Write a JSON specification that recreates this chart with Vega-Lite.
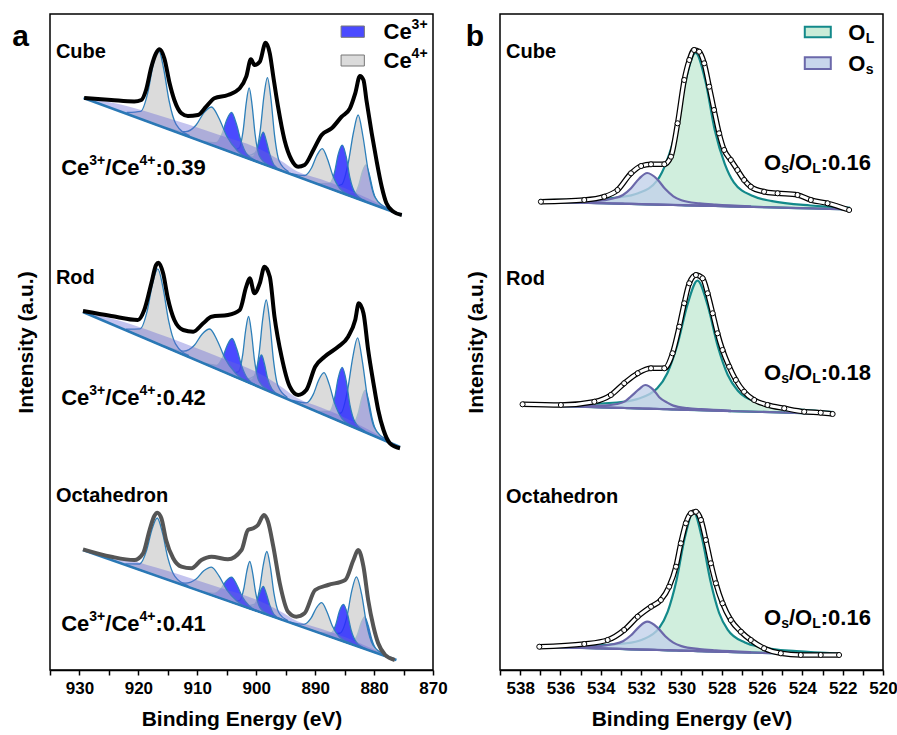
{
"$schema":"https://vega.github.io/schema/vega-lite/v6.json",
"background":"white",
"padding":{"left":11,"top":13,"right":5,"bottom":5},
"spacing":67,
"bounds":"flush",
"config":{"font":"Liberation Sans","view":{"stroke":"black","strokeWidth":1.5},
"axis":{"labelFont":"Liberation Sans","labelFontSize":17,"labelFontWeight":"bold","labelColor":"black","titleFont":"Liberation Sans","titleFontSize":21,"titleFontWeight":"bold","titleColor":"black","domainColor":"black","domainWidth":1.5,"tickColor":"black","tickWidth":1.5,"tickSize":5,"grid":false},
"text":{"font":"Liberation Sans","fontWeight":"bold","color":"black"}},
"resolve":{"scale":{"x":"independent","y":"independent","fill":"independent","stroke":"independent","fillOpacity":"independent"}},
"datasets":{
"aData":[
{"s":"Cube","x":929.2,"y":572},{"s":"Cube","x":924.6,"y":570},{"s":"Cube","x":920.7,"y":568.5},{"s":"Cube","x":919.5,"y":570},{"s":"Cube","x":918.7,"y":580},{"s":"Cube","x":917.8,"y":603},{"s":"Cube","x":917.0,"y":616.7},{"s":"Cube","x":916.4,"y":620.7},{"s":"Cube","x":915.6,"y":611.7},{"s":"Cube","x":914.7,"y":586.7},{"s":"Cube","x":913.9,"y":570},{"s":"Cube","x":912.7,"y":556.7},{"s":"Cube","x":911.6,"y":554},{"s":"Cube","x":909.9,"y":555},{"s":"Cube","x":908.5,"y":563.3},{"s":"Cube","x":907.1,"y":571.7},{"s":"Cube","x":904.8,"y":575},{"s":"Cube","x":902.8,"y":581.7},{"s":"Cube","x":901.7,"y":593.3},{"s":"Cube","x":900.9,"y":610.7},{"s":"Cube","x":900.3,"y":605},{"s":"Cube","x":899.4,"y":608.3},{"s":"Cube","x":898.4,"y":627.3},{"s":"Cube","x":897.7,"y":616.7},{"s":"Cube","x":897.1,"y":593.3},{"s":"Cube","x":896.3,"y":563.3},{"s":"Cube","x":895.2,"y":530},{"s":"Cube","x":894.0,"y":510},{"s":"Cube","x":892.9,"y":503.3},{"s":"Cube","x":891.8,"y":505},{"s":"Cube","x":890.3,"y":520},{"s":"Cube","x":888.9,"y":535},{"s":"Cube","x":887.2,"y":541.7},{"s":"Cube","x":885.5,"y":553.3},{"s":"Cube","x":884.1,"y":561.7},{"s":"Cube","x":883.2,"y":576.7},{"s":"Cube","x":882.4,"y":594},{"s":"Cube","x":881.8,"y":590},{"s":"Cube","x":881.3,"y":570},{"s":"Cube","x":880.4,"y":536.7},{"s":"Cube","x":879.6,"y":510},{"s":"Cube","x":878.7,"y":483.3},{"s":"Cube","x":877.9,"y":466.7},{"s":"Cube","x":876.7,"y":458.3},{"s":"Cube","x":875.3,"y":455},
{"s":"Rod","x":929.4,"y":359},{"s":"Rod","x":924.6,"y":354},{"s":"Rod","x":920.1,"y":350},{"s":"Rod","x":919.0,"y":360},{"s":"Rod","x":917.8,"y":386.7},{"s":"Rod","x":917.0,"y":405},{"s":"Rod","x":916.6,"y":407.3},{"s":"Rod","x":915.8,"y":396.7},{"s":"Rod","x":915.0,"y":371.7},{"s":"Rod","x":913.9,"y":350},{"s":"Rod","x":912.4,"y":340},{"s":"Rod","x":910.7,"y":338.3},{"s":"Rod","x":909.0,"y":346.7},{"s":"Rod","x":907.6,"y":353.3},{"s":"Rod","x":904.8,"y":355},{"s":"Rod","x":902.8,"y":360},{"s":"Rod","x":901.7,"y":383.3},{"s":"Rod","x":901.1,"y":391.7},{"s":"Rod","x":900.3,"y":376.7},{"s":"Rod","x":899.4,"y":386.7},{"s":"Rod","x":898.6,"y":403.3},{"s":"Rod","x":897.7,"y":393.3},{"s":"Rod","x":896.9,"y":353.3},{"s":"Rod","x":895.7,"y":313.3},{"s":"Rod","x":894.3,"y":283.3},{"s":"Rod","x":892.9,"y":275},{"s":"Rod","x":891.5,"y":280},{"s":"Rod","x":890.0,"y":303.3},{"s":"Rod","x":888.4,"y":313.3},{"s":"Rod","x":886.1,"y":323.3},{"s":"Rod","x":884.4,"y":333.3},{"s":"Rod","x":883.2,"y":350},{"s":"Rod","x":882.6,"y":366.7},{"s":"Rod","x":881.8,"y":356.7},{"s":"Rod","x":881.0,"y":320},{"s":"Rod","x":880.1,"y":286.7},{"s":"Rod","x":879.3,"y":260},{"s":"Rod","x":878.4,"y":240},{"s":"Rod","x":877.3,"y":226.7},{"s":"Rod","x":875.6,"y":221.7},
{"s":"Octahedron","x":929.4,"y":120.7},{"s":"Octahedron","x":924.6,"y":113.3},{"s":"Octahedron","x":920.7,"y":110},{"s":"Octahedron","x":919.2,"y":116.7},{"s":"Octahedron","x":918.1,"y":140},{"s":"Octahedron","x":917.3,"y":154},{"s":"Octahedron","x":916.8,"y":157.3},{"s":"Octahedron","x":916.1,"y":151.7},{"s":"Octahedron","x":915.3,"y":130},{"s":"Octahedron","x":914.1,"y":111.7},{"s":"Octahedron","x":912.7,"y":103.3},{"s":"Octahedron","x":911.0,"y":101.7},{"s":"Octahedron","x":909.3,"y":110},{"s":"Octahedron","x":907.6,"y":113.3},{"s":"Octahedron","x":904.8,"y":110.7},{"s":"Octahedron","x":902.5,"y":120},{"s":"Octahedron","x":901.4,"y":140},{"s":"Octahedron","x":900.5,"y":141.7},{"s":"Octahedron","x":899.7,"y":145},{"s":"Octahedron","x":898.7,"y":155},{"s":"Octahedron","x":898.0,"y":148.3},{"s":"Octahedron","x":897.1,"y":123.3},{"s":"Octahedron","x":896.0,"y":86.7},{"s":"Octahedron","x":894.6,"y":58.3},{"s":"Octahedron","x":893.2,"y":53.3},{"s":"Octahedron","x":891.8,"y":56.7},{"s":"Octahedron","x":890.0,"y":80},{"s":"Octahedron","x":887.8,"y":85},{"s":"Octahedron","x":884.9,"y":90},{"s":"Octahedron","x":883.5,"y":110},{"s":"Octahedron","x":882.7,"y":120},{"s":"Octahedron","x":881.8,"y":103.3},{"s":"Octahedron","x":881.0,"y":70},{"s":"Octahedron","x":880.1,"y":43.3},{"s":"Octahedron","x":879.3,"y":26.7},{"s":"Octahedron","x":878.1,"y":15},{"s":"Octahedron","x":876.5,"y":10}
],
"aBase":[{"s":"Cube","x":929.3,"y":572},{"s":"Cube","x":875.3,"y":455},{"s":"Rod","x":929.4,"y":358},{"s":"Rod","x":875.6,"y":223},{"s":"Octahedron","x":929.4,"y":120},{"s":"Octahedron","x":876.2,"y":10}],
"aWedge":[
{"k":"WC","x":929.3,"lo":572,"y":572},{"k":"WC","x":923,"lo":558.4,"y":565.4},{"k":"WC","x":917,"lo":545.4,"y":555.4},{"k":"WC","x":911.5,"lo":533.4,"y":545.4},{"k":"WC","x":906,"lo":521.5,"y":534.5},{"k":"WC","x":900,"lo":508.5,"y":522.5},{"k":"WC","x":896,"lo":499.9,"y":509.9},{"k":"WC","x":893,"lo":493.4,"y":498.4},{"k":"WC","x":889,"lo":484.7,"y":490.7},{"k":"WC","x":885,"lo":476.0,"y":482.0},{"k":"WC","x":881,"lo":467.4,"y":471.4},{"k":"WC","x":878,"lo":460.9,"y":462.9},{"k":"WC","x":875.3,"lo":455,"y":455},
{"k":"WR","x":929.4,"lo":358,"y":358},{"k":"WR","x":923,"lo":341.9,"y":348.9},{"k":"WR","x":917,"lo":326.9,"y":336.9},{"k":"WR","x":911.5,"lo":313.1,"y":325.1},{"k":"WR","x":906,"lo":299.3,"y":312.3},{"k":"WR","x":900,"lo":284.2,"y":298.2},{"k":"WR","x":896,"lo":274.2,"y":284.2},{"k":"WR","x":893,"lo":266.7,"y":271.7},{"k":"WR","x":889,"lo":256.6,"y":262.6},{"k":"WR","x":885,"lo":246.6,"y":252.6},{"k":"WR","x":881,"lo":236.5,"y":240.5},{"k":"WR","x":878,"lo":229.0,"y":231.0},{"k":"WR","x":875.6,"lo":223,"y":223},
{"k":"WO","x":929.4,"lo":120,"y":120},{"k":"WO","x":923,"lo":106.8,"y":112.4},{"k":"WO","x":917,"lo":94.4,"y":102.4},{"k":"WO","x":911.5,"lo":83.0,"y":92.6},{"k":"WO","x":906,"lo":71.6,"y":82.0},{"k":"WO","x":900,"lo":59.2,"y":70.4},{"k":"WO","x":896,"lo":51.0,"y":59.0},{"k":"WO","x":893,"lo":44.7,"y":48.7},{"k":"WO","x":889,"lo":36.5,"y":41.3},{"k":"WO","x":885,"lo":28.2,"y":33.0},{"k":"WO","x":881,"lo":19.9,"y":23.1},{"k":"WO","x":878,"lo":13.7,"y":15.3},{"k":"WO","x":876.2,"lo":10,"y":10}
],
"aComp":[
{"k":"C1","t":"Ce3+","x":877.9,"lo":460.6,"y":461.3},{"k":"C1","t":"Ce3+","x":879.4,"lo":463.9,"y":467.6},{"k":"C1","t":"Ce3+","x":880.2,"lo":465.6,"y":479.7},{"k":"C1","t":"Ce3+","x":880.8,"lo":466.9,"y":495.4},{"k":"C1","t":"Ce3+","x":881.4,"lo":468.2,"y":505.2},{"k":"C1","t":"Ce3+","x":882.0,"lo":469.5,"y":498.0},{"k":"C1","t":"Ce3+","x":882.6,"lo":470.8,"y":484.9},{"k":"C1","t":"Ce3+","x":883.4,"lo":472.6,"y":476.3},{"k":"C1","t":"Ce3+","x":884.9,"lo":475.8,"y":476.5},
{"k":"C2","t":"Ce4+","x":877.8,"lo":460.4,"y":462.1},{"k":"C2","t":"Ce4+","x":879.9,"lo":465.0,"y":473.4},{"k":"C2","t":"Ce4+","x":881.0,"lo":467.4,"y":499.3},{"k":"C2","t":"Ce4+","x":881.9,"lo":469.3,"y":534.0},{"k":"C2","t":"Ce4+","x":882.7,"lo":471.0,"y":555.0},{"k":"C2","t":"Ce4+","x":883.5,"lo":472.8,"y":537.5},{"k":"C2","t":"Ce4+","x":884.4,"lo":474.7,"y":506.6},{"k":"C2","t":"Ce4+","x":885.5,"lo":477.1,"y":485.5},{"k":"C2","t":"Ce4+","x":887.6,"lo":481.7,"y":483.4},
{"k":"C3","t":"Ce3+","x":881.6,"lo":468.7,"y":469.7},{"k":"C3","t":"Ce3+","x":883.2,"lo":472.1,"y":476.9},{"k":"C3","t":"Ce3+","x":884.1,"lo":474.1,"y":492.3},{"k":"C3","t":"Ce3+","x":884.7,"lo":475.4,"y":512.4},{"k":"C3","t":"Ce3+","x":885.4,"lo":476.9,"y":524.9},{"k":"C3","t":"Ce3+","x":886.1,"lo":478.4,"y":515.4},{"k":"C3","t":"Ce3+","x":886.7,"lo":479.7,"y":497.9},{"k":"C3","t":"Ce3+","x":887.6,"lo":481.7,"y":486.5},{"k":"C3","t":"Ce3+","x":889.3,"lo":485.3,"y":486.3},
{"k":"C4","t":"Ce4+","x":883.6,"lo":473.0,"y":473.7},{"k":"C4","t":"Ce4+","x":885.8,"lo":477.8,"y":481.5},{"k":"C4","t":"Ce4+","x":887.0,"lo":480.4,"y":494.5},{"k":"C4","t":"Ce4+","x":887.9,"lo":482.3,"y":510.8},{"k":"C4","t":"Ce4+","x":888.8,"lo":484.3,"y":521.3},{"k":"C4","t":"Ce4+","x":889.7,"lo":486.2,"y":514.7},{"k":"C4","t":"Ce4+","x":890.6,"lo":488.2,"y":502.3},{"k":"C4","t":"Ce4+","x":891.8,"lo":490.8,"y":494.5},{"k":"C4","t":"Ce4+","x":894.1,"lo":495.7,"y":496.4},
{"k":"C5","t":"Ce4+","x":894.6,"lo":496.8,"y":498.6},{"k":"C5","t":"Ce4+","x":896.1,"lo":500.1,"y":508.9},{"k":"C5","t":"Ce4+","x":896.9,"lo":501.8,"y":535.2},{"k":"C5","t":"Ce4+","x":897.5,"lo":503.1,"y":570.9},{"k":"C5","t":"Ce4+","x":898.1,"lo":504.4,"y":592.4},{"k":"C5","t":"Ce4+","x":898.7,"lo":505.7,"y":573.5},{"k":"C5","t":"Ce4+","x":899.3,"lo":507.0,"y":540.4},{"k":"C5","t":"Ce4+","x":900.1,"lo":508.7,"y":517.5},{"k":"C5","t":"Ce4+","x":901.6,"lo":512.0,"y":513.8},
{"k":"C6","t":"Ce3+","x":895.7,"lo":499.2,"y":499.8},{"k":"C6","t":"Ce3+","x":897.0,"lo":502.0,"y":505.2},{"k":"C6","t":"Ce3+","x":897.7,"lo":503.5,"y":515.7},{"k":"C6","t":"Ce3+","x":898.3,"lo":504.8,"y":529.4},{"k":"C6","t":"Ce3+","x":898.8,"lo":505.9,"y":537.9},{"k":"C6","t":"Ce3+","x":899.3,"lo":507.0,"y":531.6},{"k":"C6","t":"Ce3+","x":899.9,"lo":508.3,"y":520.5},{"k":"C6","t":"Ce3+","x":900.6,"lo":509.8,"y":513.0},{"k":"C6","t":"Ce3+","x":902.0,"lo":512.9,"y":513.5},
{"k":"C7","t":"Ce4+","x":898.2,"lo":504.6,"y":506.0},{"k":"C7","t":"Ce4+","x":899.5,"lo":507.4,"y":514.5},{"k":"C7","t":"Ce4+","x":900.2,"lo":509.0,"y":536.0},{"k":"C7","t":"Ce4+","x":900.7,"lo":510.0,"y":564.7},{"k":"C7","t":"Ce4+","x":901.2,"lo":511.1,"y":582.1},{"k":"C7","t":"Ce4+","x":901.7,"lo":512.2,"y":566.9},{"k":"C7","t":"Ce4+","x":902.2,"lo":513.3,"y":540.3},{"k":"C7","t":"Ce4+","x":902.9,"lo":514.8,"y":521.9},{"k":"C7","t":"Ce4+","x":904.2,"lo":517.6,"y":519.0},
{"k":"C8","t":"Ce3+","x":899.7,"lo":507.9,"y":508.7},{"k":"C8","t":"Ce3+","x":901.6,"lo":512.0,"y":516.0},{"k":"C8","t":"Ce3+","x":902.6,"lo":514.2,"y":529.4},{"k":"C8","t":"Ce3+","x":903.4,"lo":515.9,"y":546.7},{"k":"C8","t":"Ce3+","x":904.2,"lo":517.6,"y":557.6},{"k":"C8","t":"Ce3+","x":905.0,"lo":519.4,"y":550.2},{"k":"C8","t":"Ce3+","x":905.8,"lo":521.1,"y":536.3},{"k":"C8","t":"Ce3+","x":906.8,"lo":523.3,"y":527.3},{"k":"C8","t":"Ce3+","x":908.8,"lo":527.6,"y":528.4},
{"k":"C9","t":"Ce4+","x":899.9,"lo":508.3,"y":509.1},{"k":"C9","t":"Ce4+","x":903.2,"lo":515.5,"y":519.3},{"k":"C9","t":"Ce4+","x":905.0,"lo":519.4,"y":533.8},{"k":"C9","t":"Ce4+","x":906.3,"lo":522.2,"y":551.5},{"k":"C9","t":"Ce4+","x":907.6,"lo":525.0,"y":563.0},{"k":"C9","t":"Ce4+","x":908.9,"lo":527.8,"y":557.1},{"k":"C9","t":"Ce4+","x":910.2,"lo":530.6,"y":545.0},{"k":"C9","t":"Ce4+","x":912.0,"lo":534.5,"y":538.3},{"k":"C9","t":"Ce4+","x":915.3,"lo":541.7,"y":542.5},
{"k":"C10","t":"Ce4+","x":911.4,"lo":533.2,"y":534.7},{"k":"C10","t":"Ce4+","x":913.6,"lo":538.0,"y":545.6},{"k":"C10","t":"Ce4+","x":914.8,"lo":540.6,"y":569.5},{"k":"C10","t":"Ce4+","x":915.7,"lo":542.5,"y":601.0},{"k":"C10","t":"Ce4+","x":916.6,"lo":544.5,"y":620.5},{"k":"C10","t":"Ce4+","x":917.5,"lo":546.4,"y":604.9},{"k":"C10","t":"Ce4+","x":918.4,"lo":548.4,"y":577.3},{"k":"C10","t":"Ce4+","x":919.6,"lo":551.0,"y":558.6},{"k":"C10","t":"Ce4+","x":921.9,"lo":556.0,"y":557.5},
{"k":"R1","t":"Ce3+","x":878.0,"lo":229.0,"y":229.8},{"k":"R1","t":"Ce3+","x":879.5,"lo":232.8,"y":237.0},{"k":"R1","t":"Ce3+","x":880.3,"lo":234.8,"y":250.8},{"k":"R1","t":"Ce3+","x":880.9,"lo":236.3,"y":268.6},{"k":"R1","t":"Ce3+","x":881.5,"lo":237.8,"y":279.8},{"k":"R1","t":"Ce3+","x":882.1,"lo":239.3,"y":271.6},{"k":"R1","t":"Ce3+","x":882.7,"lo":240.8,"y":256.8},{"k":"R1","t":"Ce3+","x":883.5,"lo":242.8,"y":247.0},{"k":"R1","t":"Ce3+","x":885.0,"lo":246.6,"y":247.4},
{"k":"R2","t":"Ce4+","x":877.9,"lo":228.8,"y":230.6},{"k":"R2","t":"Ce4+","x":880.0,"lo":234.0,"y":243.1},{"k":"R2","t":"Ce4+","x":881.1,"lo":236.8,"y":271.4},{"k":"R2","t":"Ce4+","x":882.0,"lo":239.1,"y":309.2},{"k":"R2","t":"Ce4+","x":882.8,"lo":241.1,"y":332.1},{"k":"R2","t":"Ce4+","x":883.6,"lo":243.1,"y":313.2},{"k":"R2","t":"Ce4+","x":884.5,"lo":245.3,"y":279.9},{"k":"R2","t":"Ce4+","x":885.6,"lo":248.1,"y":257.2},{"k":"R2","t":"Ce4+","x":887.7,"lo":253.4,"y":255.2},
{"k":"R3","t":"Ce3+","x":881.6,"lo":238.1,"y":239.2},{"k":"R3","t":"Ce3+","x":883.2,"lo":242.1,"y":247.6},{"k":"R3","t":"Ce3+","x":884.1,"lo":244.3,"y":265.2},{"k":"R3","t":"Ce3+","x":884.7,"lo":245.8,"y":288.2},{"k":"R3","t":"Ce3+","x":885.4,"lo":247.6,"y":302.6},{"k":"R3","t":"Ce3+","x":886.1,"lo":249.3,"y":291.7},{"k":"R3","t":"Ce3+","x":886.7,"lo":250.9,"y":271.8},{"k":"R3","t":"Ce3+","x":887.6,"lo":253.1,"y":258.6},{"k":"R3","t":"Ce3+","x":889.3,"lo":257.4,"y":258.5},
{"k":"R4","t":"Ce4+","x":883.3,"lo":242.3,"y":243.1},{"k":"R4","t":"Ce4+","x":885.5,"lo":247.8,"y":252.0},{"k":"R4","t":"Ce4+","x":886.7,"lo":250.9,"y":266.9},{"k":"R4","t":"Ce4+","x":887.6,"lo":253.1,"y":285.4},{"k":"R4","t":"Ce4+","x":888.5,"lo":255.4,"y":297.4},{"k":"R4","t":"Ce4+","x":889.4,"lo":257.6,"y":289.9},{"k":"R4","t":"Ce4+","x":890.3,"lo":259.9,"y":275.9},{"k":"R4","t":"Ce4+","x":891.5,"lo":262.9,"y":267.1},{"k":"R4","t":"Ce4+","x":893.8,"lo":268.7,"y":269.5},
{"k":"R5","t":"Ce4+","x":894.8,"lo":271.2,"y":273.0},{"k":"R5","t":"Ce4+","x":896.3,"lo":274.9,"y":283.9},{"k":"R5","t":"Ce4+","x":897.1,"lo":276.9,"y":311.1},{"k":"R5","t":"Ce4+","x":897.7,"lo":278.5,"y":347.8},{"k":"R5","t":"Ce4+","x":898.3,"lo":280.0,"y":370.0},{"k":"R5","t":"Ce4+","x":898.9,"lo":281.5,"y":350.8},{"k":"R5","t":"Ce4+","x":899.5,"lo":283.0,"y":317.2},{"k":"R5","t":"Ce4+","x":900.3,"lo":285.0,"y":294.0},{"k":"R5","t":"Ce4+","x":901.8,"lo":288.7,"y":290.5},
{"k":"R6","t":"Ce3+","x":896.0,"lo":274.2,"y":274.9},{"k":"R6","t":"Ce3+","x":897.3,"lo":277.4,"y":280.7},{"k":"R6","t":"Ce3+","x":898.1,"lo":279.5,"y":292.0},{"k":"R6","t":"Ce3+","x":898.6,"lo":280.7,"y":306.1},{"k":"R6","t":"Ce3+","x":899.1,"lo":282.0,"y":315.0},{"k":"R6","t":"Ce3+","x":899.6,"lo":283.2,"y":308.6},{"k":"R6","t":"Ce3+","x":900.1,"lo":284.5,"y":297.0},{"k":"R6","t":"Ce3+","x":900.9,"lo":286.5,"y":289.8},{"k":"R6","t":"Ce3+","x":902.3,"lo":290.0,"y":290.7},
{"k":"R7","t":"Ce4+","x":898.3,"lo":280.0,"y":281.3},{"k":"R7","t":"Ce4+","x":899.6,"lo":283.2,"y":289.8},{"k":"R7","t":"Ce4+","x":900.3,"lo":285.0,"y":310.1},{"k":"R7","t":"Ce4+","x":900.8,"lo":286.2,"y":337.0},{"k":"R7","t":"Ce4+","x":901.3,"lo":287.5,"y":353.5},{"k":"R7","t":"Ce4+","x":901.8,"lo":288.7,"y":339.5},{"k":"R7","t":"Ce4+","x":902.3,"lo":290.0,"y":315.1},{"k":"R7","t":"Ce4+","x":903.0,"lo":291.7,"y":298.3},{"k":"R7","t":"Ce4+","x":904.3,"lo":295.0,"y":296.3},
{"k":"R8","t":"Ce3+","x":899.6,"lo":283.2,"y":283.9},{"k":"R8","t":"Ce3+","x":901.5,"lo":288.0,"y":291.7},{"k":"R8","t":"Ce3+","x":902.5,"lo":290.5,"y":304.6},{"k":"R8","t":"Ce3+","x":903.3,"lo":292.5,"y":321.0},{"k":"R8","t":"Ce3+","x":904.1,"lo":294.5,"y":331.5},{"k":"R8","t":"Ce3+","x":904.9,"lo":296.5,"y":325.0},{"k":"R8","t":"Ce3+","x":905.7,"lo":298.5,"y":312.6},{"k":"R8","t":"Ce3+","x":906.7,"lo":301.0,"y":304.7},{"k":"R8","t":"Ce3+","x":908.6,"lo":305.8,"y":306.5},
{"k":"R9","t":"Ce4+","x":900.2,"lo":284.7,"y":285.4},{"k":"R9","t":"Ce4+","x":903.5,"lo":293.0,"y":296.7},{"k":"R9","t":"Ce4+","x":905.3,"lo":297.5,"y":311.6},{"k":"R9","t":"Ce4+","x":906.6,"lo":300.8,"y":329.3},{"k":"R9","t":"Ce4+","x":907.9,"lo":304.0,"y":341.0},{"k":"R9","t":"Ce4+","x":909.2,"lo":307.3,"y":335.8},{"k":"R9","t":"Ce4+","x":910.5,"lo":310.6,"y":324.7},{"k":"R9","t":"Ce4+","x":912.3,"lo":315.1,"y":318.8},{"k":"R9","t":"Ce4+","x":915.6,"lo":323.4,"y":324.1},
{"k":"R10","t":"Ce4+","x":911.5,"lo":313.1,"y":314.6},{"k":"R10","t":"Ce4+","x":913.7,"lo":318.6,"y":326.1},{"k":"R10","t":"Ce4+","x":914.9,"lo":321.6,"y":350.1},{"k":"R10","t":"Ce4+","x":915.8,"lo":323.9,"y":381.7},{"k":"R10","t":"Ce4+","x":916.7,"lo":326.1,"y":401.1},{"k":"R10","t":"Ce4+","x":917.6,"lo":328.4,"y":386.2},{"k":"R10","t":"Ce4+","x":918.5,"lo":330.6,"y":359.1},{"k":"R10","t":"Ce4+","x":919.7,"lo":333.7,"y":341.2},{"k":"R10","t":"Ce4+","x":922.0,"lo":339.4,"y":340.9},
{"k":"O1","t":"Ce3+","x":878.1,"lo":13.9,"y":14.5},{"k":"O1","t":"Ce3+","x":879.6,"lo":17.0,"y":20.2},{"k":"O1","t":"Ce3+","x":880.4,"lo":18.7,"y":30.9},{"k":"O1","t":"Ce3+","x":881.0,"lo":19.9,"y":44.5},{"k":"O1","t":"Ce3+","x":881.6,"lo":21.2,"y":53.2},{"k":"O1","t":"Ce3+","x":882.2,"lo":22.4,"y":47.0},{"k":"O1","t":"Ce3+","x":882.8,"lo":23.6,"y":35.8},{"k":"O1","t":"Ce3+","x":883.6,"lo":25.3,"y":28.5},{"k":"O1","t":"Ce3+","x":885.1,"lo":28.4,"y":29.0},
{"k":"O2","t":"Ce4+","x":878.1,"lo":13.9,"y":15.3},{"k":"O2","t":"Ce4+","x":880.2,"lo":18.3,"y":25.2},{"k":"O2","t":"Ce4+","x":881.3,"lo":20.5,"y":46.7},{"k":"O2","t":"Ce4+","x":882.1,"lo":22.2,"y":75.3},{"k":"O2","t":"Ce4+","x":883.0,"lo":24.1,"y":93.1},{"k":"O2","t":"Ce4+","x":883.8,"lo":25.7,"y":78.8},{"k":"O2","t":"Ce4+","x":884.6,"lo":27.4,"y":53.6},{"k":"O2","t":"Ce4+","x":885.8,"lo":29.9,"y":36.8},{"k":"O2","t":"Ce4+","x":887.9,"lo":34.2,"y":35.6},
{"k":"O3","t":"Ce3+","x":881.4,"lo":20.8,"y":21.5},{"k":"O3","t":"Ce3+","x":883.0,"lo":24.1,"y":27.8},{"k":"O3","t":"Ce3+","x":883.9,"lo":25.9,"y":40.0},{"k":"O3","t":"Ce3+","x":884.5,"lo":27.2,"y":55.7},{"k":"O3","t":"Ce3+","x":885.2,"lo":28.6,"y":65.6},{"k":"O3","t":"Ce3+","x":885.9,"lo":30.1,"y":58.6},{"k":"O3","t":"Ce3+","x":886.5,"lo":31.3,"y":45.4},{"k":"O3","t":"Ce3+","x":887.4,"lo":33.2,"y":36.9},{"k":"O3","t":"Ce3+","x":889.1,"lo":36.7,"y":37.4},
{"k":"O4","t":"Ce4+","x":883.7,"lo":25.5,"y":26.1},{"k":"O4","t":"Ce4+","x":885.9,"lo":30.1,"y":33.2},{"k":"O4","t":"Ce4+","x":887.1,"lo":32.5,"y":44.3},{"k":"O4","t":"Ce4+","x":888.0,"lo":34.4,"y":58.3},{"k":"O4","t":"Ce4+","x":888.9,"lo":36.3,"y":67.3},{"k":"O4","t":"Ce4+","x":889.8,"lo":38.1,"y":62.0},{"k":"O4","t":"Ce4+","x":890.7,"lo":40.0,"y":51.8},{"k":"O4","t":"Ce4+","x":891.9,"lo":42.5,"y":45.6},{"k":"O4","t":"Ce4+","x":894.2,"lo":47.2,"y":47.8},
{"k":"O5","t":"Ce4+","x":894.7,"lo":48.3,"y":49.6},{"k":"O5","t":"Ce4+","x":896.2,"lo":51.4,"y":57.7},{"k":"O5","t":"Ce4+","x":897.0,"lo":53.0,"y":76.9},{"k":"O5","t":"Ce4+","x":897.6,"lo":54.3,"y":102.8},{"k":"O5","t":"Ce4+","x":898.2,"lo":55.5,"y":118.5},{"k":"O5","t":"Ce4+","x":898.8,"lo":56.7,"y":105.2},{"k":"O5","t":"Ce4+","x":899.4,"lo":58.0,"y":81.9},{"k":"O5","t":"Ce4+","x":900.2,"lo":59.6,"y":65.9},{"k":"O5","t":"Ce4+","x":901.7,"lo":62.7,"y":64.0},
{"k":"O6","t":"Ce3+","x":895.7,"lo":50.3,"y":50.8},{"k":"O6","t":"Ce3+","x":897.0,"lo":53.0,"y":55.7},{"k":"O6","t":"Ce3+","x":897.7,"lo":54.5,"y":64.8},{"k":"O6","t":"Ce3+","x":898.3,"lo":55.7,"y":76.5},{"k":"O6","t":"Ce3+","x":898.8,"lo":56.7,"y":83.7},{"k":"O6","t":"Ce3+","x":899.3,"lo":57.8,"y":78.6},{"k":"O6","t":"Ce3+","x":899.9,"lo":59.0,"y":69.3},{"k":"O6","t":"Ce3+","x":900.6,"lo":60.5,"y":63.2},{"k":"O6","t":"Ce3+","x":902.0,"lo":63.4,"y":63.9},
{"k":"O7","t":"Ce4+","x":898.1,"lo":55.3,"y":56.2},{"k":"O7","t":"Ce4+","x":899.4,"lo":58.0,"y":62.7},{"k":"O7","t":"Ce4+","x":900.1,"lo":59.4,"y":77.3},{"k":"O7","t":"Ce4+","x":900.6,"lo":60.5,"y":96.7},{"k":"O7","t":"Ce4+","x":901.1,"lo":61.5,"y":108.5},{"k":"O7","t":"Ce4+","x":901.6,"lo":62.5,"y":98.7},{"k":"O7","t":"Ce4+","x":902.1,"lo":63.6,"y":81.5},{"k":"O7","t":"Ce4+","x":902.8,"lo":65.0,"y":69.7},{"k":"O7","t":"Ce4+","x":904.1,"lo":67.7,"y":68.6},
{"k":"O8","t":"Ce3+","x":899.0,"lo":57.2,"y":57.7},{"k":"O8","t":"Ce3+","x":901.2,"lo":61.7,"y":64.2},{"k":"O8","t":"Ce3+","x":902.4,"lo":64.2,"y":73.7},{"k":"O8","t":"Ce3+","x":903.3,"lo":66.0,"y":85.3},{"k":"O8","t":"Ce3+","x":904.2,"lo":67.9,"y":92.9},{"k":"O8","t":"Ce3+","x":905.1,"lo":69.8,"y":89.1},{"k":"O8","t":"Ce3+","x":906.0,"lo":71.6,"y":81.1},{"k":"O8","t":"Ce3+","x":907.2,"lo":74.1,"y":76.6},{"k":"O8","t":"Ce3+","x":909.5,"lo":78.9,"y":79.4},
{"k":"O9","t":"Ce4+","x":899.9,"lo":59.0,"y":59.6},{"k":"O9","t":"Ce4+","x":903.2,"lo":65.8,"y":68.6},{"k":"O9","t":"Ce4+","x":905.0,"lo":69.6,"y":80.2},{"k":"O9","t":"Ce4+","x":906.3,"lo":72.2,"y":93.8},{"k":"O9","t":"Ce4+","x":907.6,"lo":74.9,"y":102.9},{"k":"O9","t":"Ce4+","x":908.9,"lo":77.6,"y":99.2},{"k":"O9","t":"Ce4+","x":910.2,"lo":80.3,"y":90.9},{"k":"O9","t":"Ce4+","x":912.0,"lo":84.0,"y":86.8},{"k":"O9","t":"Ce4+","x":915.3,"lo":90.9,"y":91.5},
{"k":"O10","t":"Ce4+","x":911.6,"lo":83.2,"y":84.4},{"k":"O10","t":"Ce4+","x":913.8,"lo":87.8,"y":93.6},{"k":"O10","t":"Ce4+","x":915.0,"lo":90.2,"y":112.2},{"k":"O10","t":"Ce4+","x":915.9,"lo":92.1,"y":136.8},{"k":"O10","t":"Ce4+","x":916.8,"lo":94.0,"y":152.0},{"k":"O10","t":"Ce4+","x":917.7,"lo":95.8,"y":140.5},{"k":"O10","t":"Ce4+","x":918.6,"lo":97.7,"y":119.7},{"k":"O10","t":"Ce4+","x":919.8,"lo":100.2,"y":106.0},{"k":"O10","t":"Ce4+","x":922.1,"lo":104.9,"y":106.1}
],
"aNames":[{"x":934,"y":618,"n":"Cube"},{"x":934,"y":392,"n":"Rod"},{"x":934,"y":174,"n":"Octahedron"}],
"aRatio":[{"x":933.1,"y":502,"r":":0.39"},{"x":933.1,"y":272,"r":":0.42"},{"x":933.1,"y":46,"r":":0.41"}],
"aLeg":[{"x":885.6,"x2":881.65,"y":644,"lo":632.7,"t":"Ce3+"},{"x":885.6,"x2":881.65,"y":615,"lo":604,"t":"Ce4+"}],
"aLegT":[{"x":878.4,"y":638.3,"sup":"3+"},{"x":878.4,"y":609.5,"sup":"4+"}],
"bData":[
{"s":"Cube","x":536.97,"y":468.3},{"s":"Cube","x":534.82,"y":470},{"s":"Cube","x":533.83,"y":473.3},{"s":"Cube","x":533.17,"y":480},{"s":"Cube","x":532.5,"y":496.7},{"s":"Cube","x":532.0,"y":504},{"s":"Cube","x":531.51,"y":505.7},{"s":"Cube","x":530.85,"y":505.7},{"s":"Cube","x":530.52,"y":513.3},{"s":"Cube","x":530.19,"y":546.7},{"s":"Cube","x":529.86,"y":590},{"s":"Cube","x":529.61,"y":610},{"s":"Cube","x":529.37,"y":620},{"s":"Cube","x":529.12,"y":618.3},{"s":"Cube","x":528.87,"y":606.7},{"s":"Cube","x":528.62,"y":583.3},{"s":"Cube","x":528.38,"y":560},{"s":"Cube","x":528.13,"y":536.7},{"s":"Cube","x":527.88,"y":520},{"s":"Cube","x":527.55,"y":510},{"s":"Cube","x":527.22,"y":500},{"s":"Cube","x":526.89,"y":490},{"s":"Cube","x":526.56,"y":483.3},{"s":"Cube","x":525.9,"y":478.3},{"s":"Cube","x":525.23,"y":476.7},{"s":"Cube","x":524.24,"y":475},{"s":"Cube","x":523.58,"y":470},{"s":"Cube","x":522.75,"y":466.7},{"s":"Cube","x":521.68,"y":460},
{"s":"Rod","x":537.88,"y":265.7},{"s":"Rod","x":535.98,"y":265},{"s":"Rod","x":534.32,"y":268.3},{"s":"Rod","x":533.5,"y":275},{"s":"Rod","x":532.84,"y":286.7},{"s":"Rod","x":532.17,"y":296.7},{"s":"Rod","x":531.51,"y":301.7},{"s":"Rod","x":530.85,"y":301.7},{"s":"Rod","x":530.44,"y":316.7},{"s":"Rod","x":530.11,"y":343.3},{"s":"Rod","x":529.86,"y":366.7},{"s":"Rod","x":529.61,"y":386.7},{"s":"Rod","x":529.28,"y":395},{"s":"Rod","x":528.95,"y":391.7},{"s":"Rod","x":528.7,"y":376.7},{"s":"Rod","x":528.45,"y":356.7},{"s":"Rod","x":528.21,"y":336.7},{"s":"Rod","x":527.96,"y":320},{"s":"Rod","x":527.63,"y":303.3},{"s":"Rod","x":527.3,"y":290},{"s":"Rod","x":526.89,"y":278.3},{"s":"Rod","x":526.39,"y":270},{"s":"Rod","x":525.73,"y":265},{"s":"Rod","x":524.9,"y":261.7},{"s":"Rod","x":523.91,"y":258.3},{"s":"Rod","x":523.09,"y":257.3},{"s":"Rod","x":522.5,"y":256},
{"s":"Octahedron","x":537.05,"y":23.3},{"s":"Octahedron","x":534.82,"y":26},{"s":"Octahedron","x":533.66,"y":30},{"s":"Octahedron","x":532.84,"y":40},{"s":"Octahedron","x":532.17,"y":53.3},{"s":"Octahedron","x":531.51,"y":63.3},{"s":"Octahedron","x":531.02,"y":70},{"s":"Octahedron","x":530.61,"y":83.3},{"s":"Octahedron","x":530.27,"y":103.3},{"s":"Octahedron","x":530.03,"y":126.7},{"s":"Octahedron","x":529.78,"y":146.7},{"s":"Octahedron","x":529.53,"y":156.7},{"s":"Octahedron","x":529.28,"y":158.3},{"s":"Octahedron","x":529.03,"y":150},{"s":"Octahedron","x":528.79,"y":130},{"s":"Octahedron","x":528.54,"y":106.7},{"s":"Octahedron","x":528.29,"y":86.7},{"s":"Octahedron","x":527.96,"y":66.7},{"s":"Octahedron","x":527.55,"y":50},{"s":"Octahedron","x":527.05,"y":38.3},{"s":"Octahedron","x":526.56,"y":30},{"s":"Octahedron","x":525.9,"y":21.7},{"s":"Octahedron","x":525.07,"y":16.7},{"s":"Octahedron","x":524.08,"y":15},{"s":"Octahedron","x":523.09,"y":15},{"s":"Octahedron","x":522.18,"y":15}
],
"bBase":[{"s":"Cube","x":537.0,"y":468.3},{"s":"Cube","x":521.7,"y":460.7},{"s":"Rod","x":537.9,"y":265},{"s":"Rod","x":522.5,"y":256},{"s":"Octahedron","x":537.05,"y":23.3},{"s":"Octahedron","x":522.2,"y":15}],
"bComp":[
{"k":"bC1","t":"OL","x":521.7,"lo":460.7,"y":462.4},{"k":"bC1","t":"OL","x":523.6,"lo":461.6,"y":464.5},{"k":"bC1","t":"OL","x":525.5,"lo":462.6,"y":468.9},{"k":"bC1","t":"OL","x":526.45,"lo":463.1,"y":473.9},{"k":"bC1","t":"OL","x":527.4,"lo":463.5,"y":487.7},{"k":"bC1","t":"OL","x":527.85,"lo":463.8,"y":506.2},{"k":"bC1","t":"OL","x":528.35,"lo":464.0,"y":540.3},{"k":"bC1","t":"OL","x":528.8,"lo":464.2,"y":588.0},{"k":"bC1","t":"OL","x":529.3,"lo":464.5,"y":617.0},{"k":"bC1","t":"OL","x":529.8,"lo":464.7,"y":588.5},{"k":"bC1","t":"OL","x":530.25,"lo":465.0,"y":541.3},{"k":"bC1","t":"OL","x":530.75,"lo":465.2,"y":507.6},{"k":"bC1","t":"OL","x":531.2,"lo":465.4,"y":489.6},{"k":"bC1","t":"OL","x":532.15,"lo":465.9,"y":476.7},{"k":"bC1","t":"OL","x":533.1,"lo":466.4,"y":472.7},{"k":"bC1","t":"OL","x":535.0,"lo":467.3,"y":470.2},{"k":"bC1","t":"OL","x":537.0,"lo":468.3,"y":470.0},
{"k":"bC2","t":"Os","x":526.6,"lo":463.1,"y":463.7},{"k":"bC2","t":"Os","x":528.3,"lo":464.0,"y":465.3},{"k":"bC2","t":"Os","x":529.1,"lo":464.4,"y":466.6},{"k":"bC2","t":"Os","x":530.0,"lo":464.8,"y":469.8},{"k":"bC2","t":"Os","x":530.4,"lo":465.0,"y":473.7},{"k":"bC2","t":"Os","x":530.8,"lo":465.2,"y":480.9},{"k":"bC2","t":"Os","x":531.2,"lo":465.4,"y":490.8},{"k":"bC2","t":"Os","x":531.7,"lo":465.7,"y":497.0},{"k":"bC2","t":"Os","x":532.1,"lo":465.9,"y":491.3},{"k":"bC2","t":"Os","x":532.5,"lo":466.1,"y":481.8},{"k":"bC2","t":"Os","x":532.9,"lo":466.3,"y":475.0},{"k":"bC2","t":"Os","x":533.4,"lo":466.5,"y":471.5},{"k":"bC2","t":"Os","x":534.2,"lo":466.9,"y":469.1},{"k":"bC2","t":"Os","x":535.1,"lo":467.4,"y":468.7},{"k":"bC2","t":"Os","x":536.8,"lo":468.2,"y":468.8},
{"k":"bR1","t":"OL","x":522.5,"lo":256.0,"y":257.9},{"k":"bR1","t":"OL","x":523.2,"lo":256.4,"y":258.9},{"k":"bR1","t":"OL","x":525.2,"lo":257.6,"y":262.9},{"k":"bR1","t":"OL","x":526.2,"lo":258.2,"y":267.4},{"k":"bR1","t":"OL","x":527.2,"lo":258.7,"y":279.3},{"k":"bR1","t":"OL","x":527.7,"lo":259.0,"y":295.0},{"k":"bR1","t":"OL","x":528.2,"lo":259.3,"y":324.0},{"k":"bR1","t":"OL","x":528.7,"lo":259.6,"y":364.7},{"k":"bR1","t":"OL","x":529.2,"lo":259.9,"y":389.3},{"k":"bR1","t":"OL","x":529.7,"lo":260.2,"y":365.3},{"k":"bR1","t":"OL","x":530.2,"lo":260.5,"y":325.2},{"k":"bR1","t":"OL","x":530.7,"lo":260.8,"y":296.8},{"k":"bR1","t":"OL","x":531.2,"lo":261.1,"y":281.7},{"k":"bR1","t":"OL","x":532.2,"lo":261.7,"y":270.9},{"k":"bR1","t":"OL","x":533.2,"lo":262.2,"y":267.5},{"k":"bR1","t":"OL","x":535.2,"lo":263.4,"y":265.9},{"k":"bR1","t":"OL","x":537.9,"lo":265.0,"y":266.2},
{"k":"bR2","t":"Os","x":527.6,"lo":259.0,"y":259.5},{"k":"bR2","t":"Os","x":529.0,"lo":259.8,"y":260.8},{"k":"bR2","t":"Os","x":529.7,"lo":260.2,"y":261.9},{"k":"bR2","t":"Os","x":530.4,"lo":260.6,"y":264.4},{"k":"bR2","t":"Os","x":530.7,"lo":260.8,"y":267.4},{"k":"bR2","t":"Os","x":531.1,"lo":261.0,"y":272.8},{"k":"bR2","t":"Os","x":531.4,"lo":261.2,"y":280.4},{"k":"bR2","t":"Os","x":531.8,"lo":261.4,"y":285.0},{"k":"bR2","t":"Os","x":532.1,"lo":261.6,"y":280.8},{"k":"bR2","t":"Os","x":532.5,"lo":261.8,"y":273.6},{"k":"bR2","t":"Os","x":532.8,"lo":262.0,"y":268.6},{"k":"bR2","t":"Os","x":533.2,"lo":262.2,"y":266.0},{"k":"bR2","t":"Os","x":533.9,"lo":262.7,"y":264.4},{"k":"bR2","t":"Os","x":534.6,"lo":263.1,"y":264.1},{"k":"bR2","t":"Os","x":536.0,"lo":263.9,"y":264.4},
{"k":"bO1","t":"OL","x":522.2,"lo":15.0,"y":16.4},{"k":"bO1","t":"OL","x":524.3,"lo":16.2,"y":18.8},{"k":"bO1","t":"OL","x":526.0,"lo":17.1,"y":22.8},{"k":"bO1","t":"OL","x":526.85,"lo":17.6,"y":27.5},{"k":"bO1","t":"OL","x":527.7,"lo":18.1,"y":40.2},{"k":"bO1","t":"OL","x":528.13,"lo":18.3,"y":57.0},{"k":"bO1","t":"OL","x":528.55,"lo":18.5,"y":88.2},{"k":"bO1","t":"OL","x":528.98,"lo":18.8,"y":131.9},{"k":"bO1","t":"OL","x":529.4,"lo":19.0,"y":158.3},{"k":"bO1","t":"OL","x":529.83,"lo":19.3,"y":132.4},{"k":"bO1","t":"OL","x":530.25,"lo":19.5,"y":89.2},{"k":"bO1","t":"OL","x":530.68,"lo":19.7,"y":58.4},{"k":"bO1","t":"OL","x":531.1,"lo":20.0,"y":42.1},{"k":"bO1","t":"OL","x":531.95,"lo":20.4,"y":30.3},{"k":"bO1","t":"OL","x":532.8,"lo":20.9,"y":26.6},{"k":"bO1","t":"OL","x":534.5,"lo":21.9,"y":24.5},{"k":"bO1","t":"OL","x":537.05,"lo":23.3,"y":24.5},
{"k":"bO2","t":"Os","x":526.6,"lo":17.5,"y":18.0},{"k":"bO2","t":"Os","x":528.3,"lo":18.4,"y":19.6},{"k":"bO2","t":"Os","x":529.1,"lo":18.9,"y":20.9},{"k":"bO2","t":"Os","x":530.0,"lo":19.4,"y":23.9},{"k":"bO2","t":"Os","x":530.4,"lo":19.6,"y":27.4},{"k":"bO2","t":"Os","x":530.8,"lo":19.8,"y":33.8},{"k":"bO2","t":"Os","x":531.2,"lo":20.0,"y":42.7},{"k":"bO2","t":"Os","x":531.7,"lo":20.3,"y":48.3},{"k":"bO2","t":"Os","x":532.1,"lo":20.5,"y":43.2},{"k":"bO2","t":"Os","x":532.5,"lo":20.7,"y":34.7},{"k":"bO2","t":"Os","x":532.9,"lo":21.0,"y":28.8},{"k":"bO2","t":"Os","x":533.4,"lo":21.2,"y":25.7},{"k":"bO2","t":"Os","x":534.2,"lo":21.7,"y":23.7},{"k":"bO2","t":"Os","x":535.1,"lo":22.2,"y":23.4},{"k":"bO2","t":"Os","x":536.8,"lo":23.1,"y":23.6}
],
"bNames":[{"x":538.7,"y":618,"n":"Cube"},{"x":538.7,"y":391,"n":"Rod"},{"x":538.7,"y":173,"n":"Octahedron"}],
"bRatio":[{"x":525.9,"y":507,"r":":0.16"},{"x":525.9,"y":297,"r":":0.18"},{"x":525.9,"y":52,"r":":0.16"}],
"bLeg":[{"x":523.88,"x2":522.59,"y":643.3,"lo":632.7,"t":"OL"},{"x":523.88,"x2":522.59,"y":612.7,"lo":601,"t":"Os"}],
"bLegT":[{"x":521.73,"y":636.7,"sub":"L"},{"x":521.73,"y":605.7,"sub":"s"}]
},
"hconcat":[
{"width":383,"height":656,
"encoding":{
"x":{"field":"x","type":"quantitative","scale":{"domain":[870,935],"reverse":true,"nice":false,"zero":false},
"axis":{"title":"Binding Energy (eV)","values":[870,875,880,885,890,895,900,905,910,915,920,925,930,935],"labelExpr":"datum.value % 10 == 0 ? datum.label : ''","labelFlush":false,"labelOverlap":false,"labelPadding":5,"titlePadding":12}},
"y":{"field":"y","type":"quantitative","scale":{"domain":[0,656],"nice":false,"zero":false},
"axis":{"title":"Intensity (a.u.)","labels":false,"ticks":false,"domain":false,"titlePadding":14}}},
"layer":[
{"data":{"name":"aComp"},"mark":{"type":"area","interpolate":"monotone","stroke":"#2d7fba","strokeWidth":1.3},
"encoding":{"y2":{"field":"lo"},"detail":{"field":"k"},
"fill":{"field":"t","type":"nominal","scale":{"domain":["Ce3+","Ce4+"],"range":["#2a2aff","#cfcfcf"]},"legend":null},
"fillOpacity":{"field":"t","type":"nominal","scale":{"domain":["Ce3+","Ce4+"],"range":[0.85,0.75]},"legend":null}}},
{"data":{"name":"aWedge"},"mark":{"type":"area","interpolate":"monotone","fill":"#6a6ad8","fillOpacity":0.4},"encoding":{"y2":{"field":"lo"},"detail":{"field":"k"}}},
{"data":{"name":"aBase"},"mark":{"type":"line","stroke":"#2a78b5","strokeWidth":2.5},"encoding":{"detail":{"field":"s"}}},
{"data":{"name":"aData"},"mark":{"type":"line","interpolate":"monotone","strokeWidth":4},
"encoding":{"stroke":{"field":"s","type":"nominal","scale":{"domain":["Cube","Rod","Octahedron"],"range":["#000000","#000000","#555555"]},"legend":null}}},
{"data":{"name":"aNames"},"mark":{"type":"text","align":"left","baseline":"middle","fontSize":20},"encoding":{"text":{"field":"n"}}},
{"data":{"values":[{"x":940.0,"y":633.5,"n":"a"}]},"mark":{"type":"text","align":"center","baseline":"middle","fontSize":30},"encoding":{"text":{"field":"n"}}},
{"data":{"name":"aRatio"},"mark":{"type":"text","align":"left","baseline":"middle","fontSize":22},"encoding":{"text":{"value":"Ce"}}},
{"data":{"name":"aRatio"},"mark":{"type":"text","align":"left","baseline":"middle","fontSize":14,"dx":28.1,"dy":-7},"encoding":{"text":{"value":"3+"}}},
{"data":{"name":"aRatio"},"mark":{"type":"text","align":"left","baseline":"middle","fontSize":22,"dx":44.1},"encoding":{"text":{"value":"/Ce"}}},
{"data":{"name":"aRatio"},"mark":{"type":"text","align":"left","baseline":"middle","fontSize":14,"dx":78.3,"dy":-7},"encoding":{"text":{"value":"4+"}}},
{"data":{"name":"aRatio"},"mark":{"type":"text","align":"left","baseline":"middle","fontSize":22,"dx":94.3},"encoding":{"text":{"field":"r"}}},
{"data":{"name":"aLeg"},"mark":{"type":"rect","stroke":"#777777","strokeWidth":1},"encoding":{"x2":{"field":"x2"},"y2":{"field":"lo"},"fill":{"field":"t","type":"nominal","legend":null},"fillOpacity":{"field":"t","type":"nominal","legend":null}}},
{"data":{"name":"aLegT"},"mark":{"type":"text","align":"left","baseline":"middle","fontSize":22},"encoding":{"text":{"value":"Ce"}}},
{"data":{"name":"aLegT"},"mark":{"type":"text","align":"left","baseline":"middle","fontSize":14,"dx":28.1,"dy":-7},"encoding":{"text":{"field":"sup"}}}
]},
{"width":383,"height":656,
"encoding":{
"x":{"field":"x","type":"quantitative","scale":{"domain":[520,539],"reverse":true,"nice":false,"zero":false},
"axis":{"title":"Binding Energy (eV)","values":[520,521,522,523,524,525,526,527,528,529,530,531,532,533,534,535,536,537,538,539],"labelExpr":"datum.value % 2 == 0 ? datum.label : ''","labelFlush":false,"labelOverlap":false,"labelPadding":5,"titlePadding":12}},
"y":{"field":"y","type":"quantitative","scale":{"domain":[0,656],"nice":false,"zero":false},
"axis":{"title":"Intensity (a.u.)","labels":false,"ticks":false,"domain":false,"titlePadding":14}}},
"layer":[
{"data":{"name":"bComp"},"mark":{"type":"area","interpolate":"monotone","strokeWidth":2.2,"fillOpacity":0.8},
"encoding":{"y2":{"field":"lo"},"detail":{"field":"k"},
"fill":{"field":"t","type":"nominal","scale":{"domain":["OL","Os"],"range":["#c4ead4","#c2d1ea"]},"legend":null},
"stroke":{"field":"t","type":"nominal","scale":{"domain":["OL","Os"],"range":["#13898a","#6b68aa"]},"legend":null}}},
{"data":{"name":"bBase"},"mark":{"type":"line","stroke":"#6b68aa","strokeWidth":2.2},"encoding":{"detail":{"field":"s"}}},
{"data":{"name":"bData"},"mark":{"type":"line","interpolate":"monotone","stroke":"black","strokeWidth":5.5},"encoding":{"detail":{"field":"s"}}},
{"data":{"name":"bData"},"mark":{"type":"line","interpolate":"monotone","stroke":"white","strokeWidth":3},"encoding":{"detail":{"field":"s"}}},
{"data":{"name":"bData"},"mark":{"type":"point","shape":"circle","filled":true,"fill":"white","stroke":"black","strokeWidth":1,"size":26,"opacity":1},"encoding":{}},
{"data":{"name":"bNames"},"mark":{"type":"text","align":"left","baseline":"middle","fontSize":20},"encoding":{"text":{"field":"n"}}},
{"data":{"values":[{"x":540.24,"y":633.5,"n":"b"}]},"mark":{"type":"text","align":"center","baseline":"middle","fontSize":30},"encoding":{"text":{"field":"n"}}},
{"data":{"name":"bRatio"},"mark":{"type":"text","align":"left","baseline":"middle","fontSize":22},"encoding":{"text":{"value":"O"}}},
{"data":{"name":"bRatio"},"mark":{"type":"text","align":"left","baseline":"middle","fontSize":14,"dx":17.1,"dy":6},"encoding":{"text":{"value":"s"}}},
{"data":{"name":"bRatio"},"mark":{"type":"text","align":"left","baseline":"middle","fontSize":22,"dx":24.9},"encoding":{"text":{"value":"/O"}}},
{"data":{"name":"bRatio"},"mark":{"type":"text","align":"left","baseline":"middle","fontSize":14,"dx":48.1,"dy":6},"encoding":{"text":{"value":"L"}}},
{"data":{"name":"bRatio"},"mark":{"type":"text","align":"left","baseline":"middle","fontSize":22,"dx":56.7},"encoding":{"text":{"field":"r"}}},
{"data":{"name":"bLeg"},"mark":{"type":"rect","strokeWidth":2,"fillOpacity":0.9},"encoding":{"x2":{"field":"x2"},"y2":{"field":"lo"},"fill":{"field":"t","type":"nominal","legend":null},"stroke":{"field":"t","type":"nominal","legend":null}}},
{"data":{"name":"bLegT"},"mark":{"type":"text","align":"left","baseline":"middle","fontSize":22},"encoding":{"text":{"value":"O"}}},
{"data":{"name":"bLegT"},"mark":{"type":"text","align":"left","baseline":"middle","fontSize":14,"dx":17.5,"dy":6},"encoding":{"text":{"field":"sub"}}}
]}
]
}
